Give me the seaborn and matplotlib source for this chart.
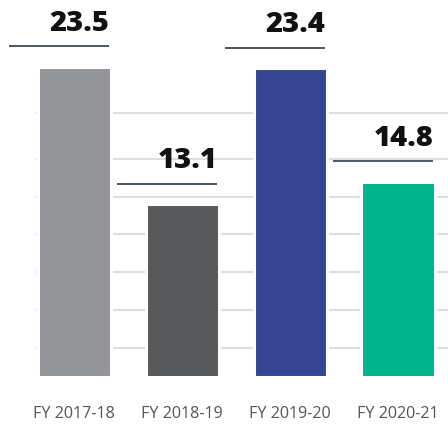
import matplotlib
matplotlib.use("Agg")
import matplotlib.pyplot as plt
import seaborn as sns
import pandas as pd

# Fiscal-year values
years = ["FY 2017-18", "FY 2018-19", "FY 2019-20", "FY 2020-21"]
values = [23.5, 13.1, 23.4, 14.8]
colors = ["#939598", "#58595b", "#354593", "#00b48c"]
grid_levels = [2.2, 5.1, 7.95, 10.85, 13.65, 16.5, 20.0]

sns.set_theme(style="white")
plt.rcParams["font.family"] = ["Open Sans", "DejaVu Sans"]

df = pd.DataFrame({"year": years, "value": values})

fig = plt.figure(figsize=(4.48, 4.24), dpi=100)
ax = fig.add_axes([36 / 448, 47 / 424, 412 / 448, 377 / 424])

bar_w = 0.676
sns.barplot(data=df, x="year", y="value", hue="year", palette=colors,
            legend=False, width=bar_w, edgecolor="white", linewidth=2.2,
            saturation=1, ax=ax, zorder=3)

ax.set_xlim(-0.352, 3.463)
ax.set_ylim(0, 28.56)
ax.set_yticks(grid_levels)
ax.yaxis.grid(True, color="#dedede", linewidth=1.5, zorder=0)
ax.set_axisbelow(True)
ax.tick_params(axis="y", left=False, labelleft=False)
ax.tick_params(axis="x", length=0, pad=21, labelsize=11.6, labelcolor="#555555")
ax.set_xlabel("")
ax.set_ylabel("")
for s in ax.spines.values():
    s.set_visible(False)

# value labels sitting on a short rule above each bar
line_gap = 1.55
text_gap = 1.15
rule_len = 0.93
half_vis = (bar_w - 0.02) / 2
for i, v in enumerate(values):
    right = i + half_vis
    ax.hlines(v + line_gap, right - rule_len, right, color="#3d4a55",
              linewidth=1.3, clip_on=False, zorder=4)
    ax.text(right, v + line_gap + text_gap, f"{v:.1f}", ha="right",
            va="baseline", fontsize=21, fontweight=800, color="#111111",
            zorder=5, clip_on=False)

fig.savefig("out.png", dpi=100)
